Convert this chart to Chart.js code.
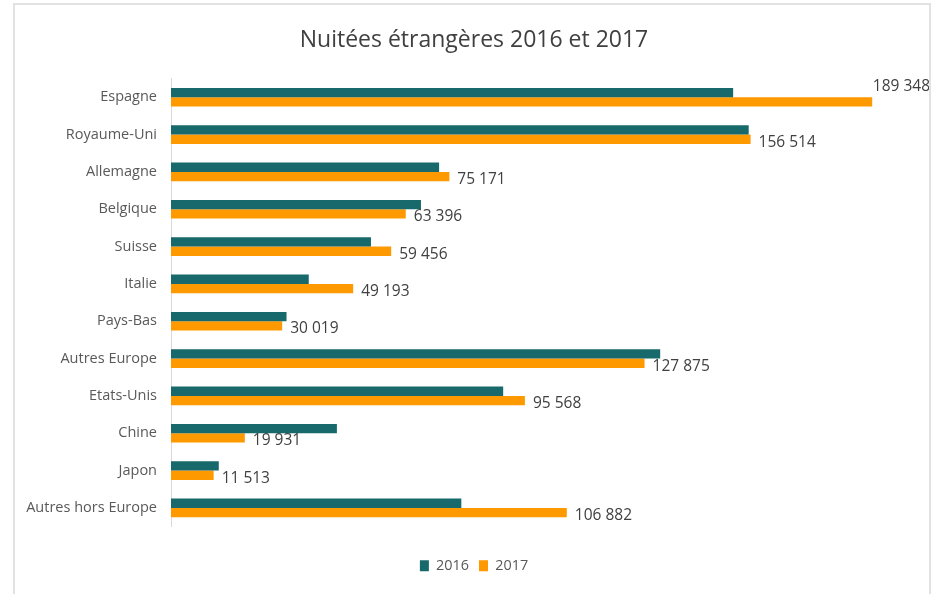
<!DOCTYPE html>
<html>
<head>
<meta charset="utf-8">
<script src="https://cdn.jsdelivr.net/npm/chart.js@4/dist/chart.umd.min.js"></script>
<style>
  html, body { margin: 0; padding: 0; background: #fff; }
  #wrap { position: relative; width: 932px; height: 594px; }
  #frame {
    position: absolute; left: 13px; top: 3px; width: 914px; height: 600px;
    border: 2px solid #e2e2e2; border-bottom: none; pointer-events: none;
  }
</style>
</head>
<body>
<div id="wrap">
  <canvas id="nuitees" width="932" height="594"></canvas>
  <div id="frame"></div>
</div>
<script>
// pays / zones
const countries = ['Espagne', 'Royaume-Uni', 'Allemagne', 'Belgique', 'Suisse', 'Italie',
  'Pays-Bas', 'Autres Europe', 'Etats-Unis', 'Chine', 'Japon', 'Autres hors Europe'];

// 2016 (no labels in the picture)
const nights2016 = [151800, 156000, 72400, 67500, 54000, 37200, 31200, 132100, 89700, 44800, 12900, 78400];
// 2017 labels are printed on the chart
const nights2017 = [189348, 156514, 75171, 63396, 59456, 49193, 30019, 127875, 95568, 19931, 11513, 106882];

const seriesLabels = ['2016', '2017'];

const teal = '#17696b';
const orange = '#ff9900';
const font = "'Open Sans', 'Liberation Sans', sans-serif";

// french style thousands: 189 348
function fmt(v) {
  return String(v).replace(/\B(?=(\d{3})+(?!\d))/g, ' ');
}

// value labels only on the 2017 bars, like in excel
const valueLabels = {
  id: 'valueLabels',
  afterDatasetsDraw(chart) {
    const ctx = chart.ctx;
    const meta = chart.getDatasetMeta(1);
    ctx.save();
    ctx.font = '15.5px ' + font;
    ctx.fillStyle = '#404040';
    ctx.textBaseline = 'middle';
    meta.data.forEach((bar, i) => {
      const txt = fmt(nights2017[i]);
      const w = ctx.measureText(txt).width;
      let x = bar.x + 8;
      let y = bar.y + 3;
      if (x + w > chart.width - 2) {
        // no room on the right -> pushed up like excel does
        x = chart.width - 2 - w;
        y = bar.y - 15;
      }
      ctx.fillText(txt, x, y);
    });
    ctx.restore();
  }
};

new Chart(document.getElementById('nuitees'), {
  type: 'bar',
  data: {
    labels: countries,
    datasets: [
      {
        label: seriesLabels[0],
        data: nights2016,
        backgroundColor: teal,
        categoryPercentage: 0.5,
        barPercentage: 1.0
      },
      {
        label: seriesLabels[1],
        data: nights2017,
        backgroundColor: orange,
        categoryPercentage: 0.5,
        barPercentage: 1.0
      }
    ]
  },
  options: {
    indexAxis: 'y',
    responsive: false,
    animation: false,
    layout: { padding: { left: 16, right: 0, top: 0, bottom: 11 } },
    plugins: {
      title: {
        display: true,
        text: 'Nuitées étrangères 2016 et 2017',
        color: '#404040',
        font: { family: font, size: 23, weight: 'normal', lineHeight: 1.2 },
        padding: { top: 27, bottom: 24 }
      },
      legend: {
        position: 'bottom',
        labels: {
          color: '#595959',
          font: { family: font, size: 14.4 },
          boxWidth: 9,
          boxHeight: 11,
          padding: 10
        }
      },
      tooltip: { enabled: false }
    },
    scales: {
      x: {
        min: 0,
        max: 205500,
        grid: { display: false },
        border: { display: false },
        ticks: { display: false },
        // empty band under the bars, legend sits lower
        afterFit(scale) { scale.height = 22; }
      },
      y: {
        grid: { display: false, drawTicks: false },
        border: { display: true, color: '#d9d9d9', width: 1 },
        ticks: {
          color: '#595959',
          font: { family: font, size: 14.5 },
          padding: 14
        },
        afterFit(scale) { scale.width = 155; }
      }
    }
  },
  plugins: [valueLabels]
});
</script>
</body>
</html>
